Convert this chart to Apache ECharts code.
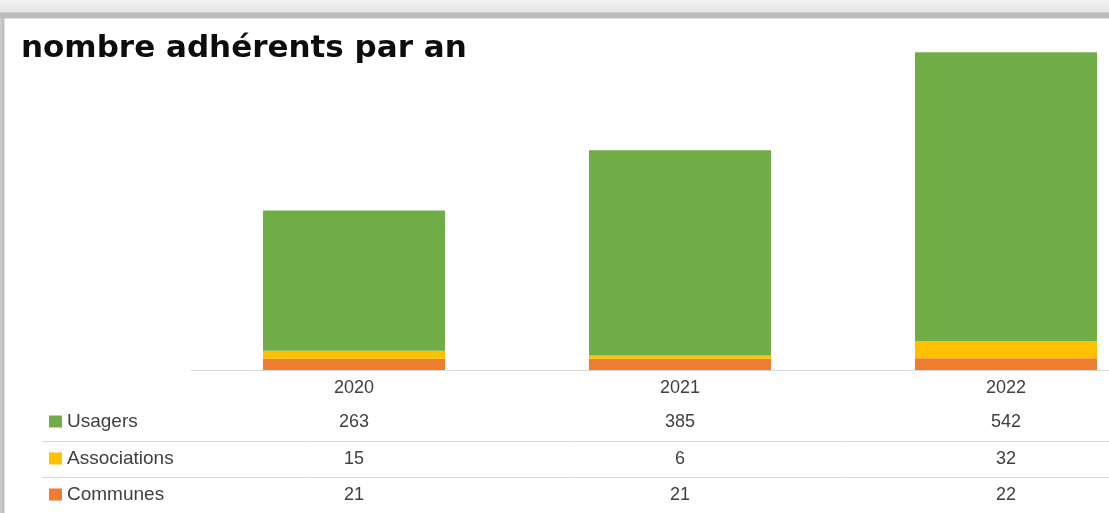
<!DOCTYPE html>
<html>
<head>
<meta charset="utf-8">
<script src="https://cdn.jsdelivr.net/npm/echarts@6/dist/echarts.min.js"></script>
<style>
  html, body { margin: 0; padding: 0; }
  body {
    width: 1109px; height: 513px; overflow: hidden;
    background:
      linear-gradient(to bottom, #f3f3f3 0, #e4e4e4 12px, #bcbcbc 13px, #bcbcbc 18px, rgba(255,255,255,0) 19px),
      linear-gradient(to right, #cfcfcf 0, #bdbdbd 4px, #ffffff 5px);
  }
  #chart { width: 1109px; height: 513px; }
</style>
</head>
<body>
<div id="chart"></div>
<script>
const years = ["2020", "2021", "2022"]
const seriesNames = ["Usagers", "Associations", "Communes"]
const usagers = [263, 385, 542]
const associations = [15, 6, 32]
const communes = [21, 21, 22]

const textColor = "#404040"
const cellFont = "Liberation Sans"

const chart = echarts.init(document.getElementById("chart"))

// une ligne du tableau de données = un axe x décalé
const rowAxis = (values, offset) => ({
  type: "category",
  data: years,
  position: "bottom",
  offset: offset,
  axisLine: { show: false },
  axisTick: { show: false },
  axisLabel: {
    margin: 9,
    color: textColor,
    fontSize: 18,
    fontFamily: cellFont,
    formatter: (v, i) => String(values[i])
  }
})

// une légende par ligne du tableau
const rowLegend = (name, top) => ({
  data: [name],
  left: 49,
  top: top,
  itemWidth: 13,
  itemHeight: 12,
  icon: "rect",
  padding: 0,
  textStyle: { color: textColor, fontSize: 19, fontFamily: cellFont }
})

const options = {
  backgroundColor: "transparent",
  animation: false,
  title: {
    text: "nombre adhérents par an",
    left: 16,
    top: 28,
    textStyle: {
      color: "#0d0d0d",
      fontSize: 31,
      fontWeight: "bold",
      fontFamily: "DejaVu Sans"
    }
  },
  legend: [
    rowLegend(seriesNames[0], 412),
    rowLegend(seriesNames[1], 449),
    rowLegend(seriesNames[2], 485)
  ],
  // le graphique est coupé à droite : la grille dépasse du cadre
  grid: { left: 191, width: 978, top: 50, height: 320, outerBoundsMode: "none" },
  xAxis: [
    {
      type: "category",
      data: years,
      axisLine: { lineStyle: { color: "#d9d9d9", width: 1 } },
      axisTick: { show: false },
      axisLabel: { margin: 9, color: textColor, fontSize: 18, fontFamily: cellFont }
    },
    rowAxis(usagers, 34),
    rowAxis(associations, 71),
    rowAxis(communes, 107)
  ],
  yAxis: { type: "value", min: 0, max: 600, show: false, splitLine: { show: false } },
  graphic: [
    { type: "line", shape: { x1: 42, y1: 441.5, x2: 1109, y2: 441.5 }, style: { stroke: "#d9d9d9", lineWidth: 1 } },
    { type: "line", shape: { x1: 42, y1: 477.5, x2: 1109, y2: 477.5 }, style: { stroke: "#d9d9d9", lineWidth: 1 } }
  ],
  series: [
    { name: "Communes", type: "bar", stack: "total", barWidth: 182, data: communes, itemStyle: { color: "#ED7D31" } },
    { name: "Associations", type: "bar", stack: "total", barWidth: 182, data: associations, itemStyle: { color: "#FFC000" } },
    { name: "Usagers", type: "bar", stack: "total", barWidth: 182, data: usagers, itemStyle: { color: "#70AD47" } }
  ]
}

chart.setOption(options)
</script>
</body>
</html>
